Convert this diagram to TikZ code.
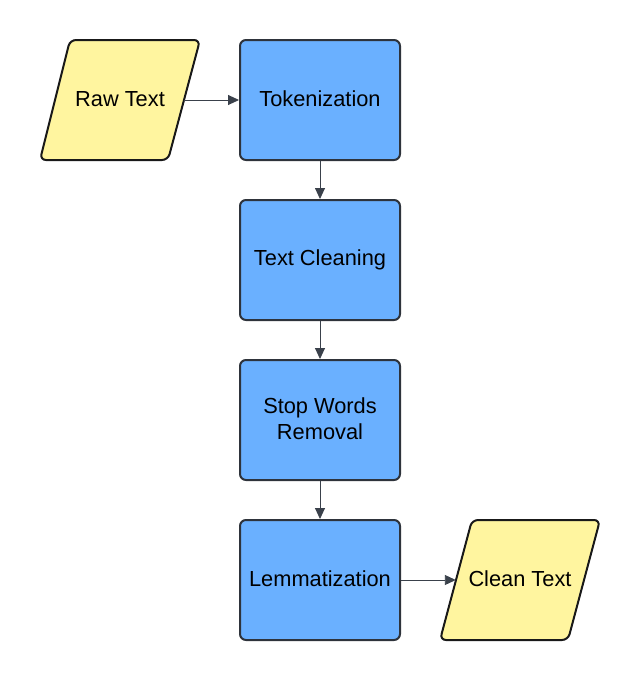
\documentclass[tikz,border=0pt]{standalone}
\usepackage{fontspec}
\setmainfont{Liberation Sans}
\usetikzlibrary{arrows.meta}
\definecolor{boxblue}{HTML}{6AB0FF}
\definecolor{ioyellow}{HTML}{FFF59F}
\definecolor{edgegray}{HTML}{2E333B}
\definecolor{arrowgray}{HTML}{3A414B}
\tikzset{
  procbox/.style={draw=edgegray, line width=2pt, fill=boxblue, rounded corners=6pt,
    minimum width=160pt, minimum height=120pt, inner sep=0pt, align=center,
    font=\fontsize{21.8pt}{26pt}\selectfont},
  iolabel/.style={minimum width=128pt, minimum height=120pt, inner sep=0pt,
    font=\fontsize{21.8pt}{26pt}\selectfont},
  ioshape/.style={draw=black!90, line width=2pt, fill=ioyellow, rounded corners=6pt},
  flow/.style={draw=arrowgray, line width=0.9pt, -{Triangle[length=11pt,width=10pt]}}
}
\begin{document}
\begin{tikzpicture}[x=1pt,y=-1pt]
\useasboundingbox (0,0) rectangle (640,680);
% input/output shapes
\path[ioshape] (70,40) -- (200,40) -- (168,160) -- (40,160) -- cycle;
\path[ioshape] (472,520) -- (600,520) -- (568,640) -- (440,640) -- cycle;
\node[iolabel] (raw) at (120,100) {\raisebox{2.5pt}{Raw Text}};
\node[iolabel] (clean) at (520,580) {\raisebox{2.5pt}{Clean Text}};
% process boxes
\node[procbox] (tok) at (320,100) {\raisebox{2.5pt}{Tokenization}};
\node[procbox] (clean1) at (320,260) {\raisebox{2.5pt}{Text Cleaning}};
\node[procbox] (stop) at (320,420) {\raisebox{2.5pt}{Stop Words}\\\raisebox{2.5pt}{Removal}};
\node[procbox] (lem) at (320,580) {\raisebox{2.5pt}{Lemmatization}};
% connectors
\draw[flow] (raw.east) -- (tok.west);
\draw[flow] (tok.south) -- (clean1.north);
\draw[flow] (clean1.south) -- (stop.north);
\draw[flow] (stop.south) -- (lem.north);
\draw[flow] (lem.east) -- (clean.west);
\end{tikzpicture}
\end{document}
